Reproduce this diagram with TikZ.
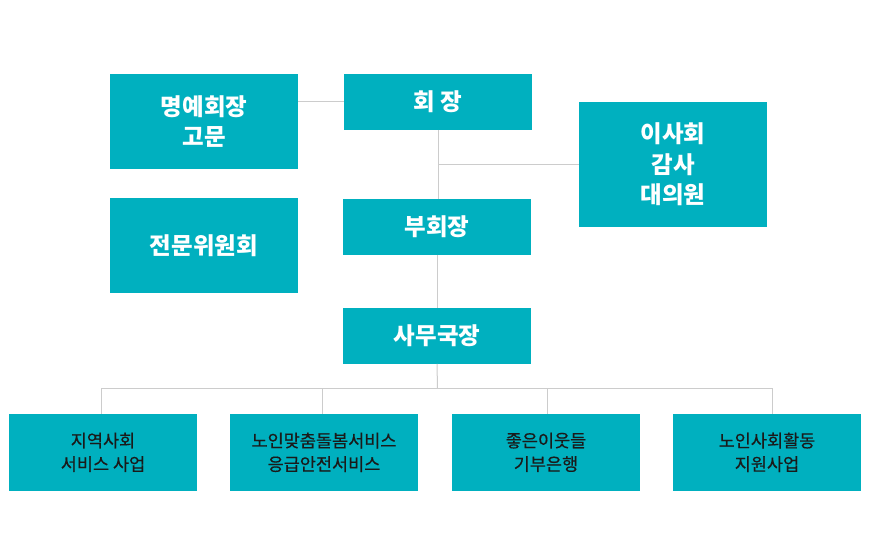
\documentclass[tikz,border=0pt]{standalone}
\usepackage{fontspec}
\setmainfont{Noto Sans CJK KR}
\newfontfamily\medfont[FakeBold=0.5]{Noto Sans CJK KR}
\definecolor{teal}{HTML}{00B0BF}
\definecolor{linegray}{HTML}{CCCCCC}
\definecolor{darktext}{HTML}{1A1A1A}
\begin{document}
\begin{tikzpicture}[x=1pt,y=-1pt,
  topbox/.style={fill=teal, draw=none, inner sep=0pt, minimum width=188pt, text=white, align=center,
    font=\fontsize{23.5}{30.5}\selectfont\bfseries},
  lowbox/.style={fill=teal, draw=none, inner sep=0pt, minimum width=188pt, minimum height=76.7pt, text=darktext, align=center,
    font=\medfont\fontsize{17.5}{23.5}\selectfont},
  conn/.style={draw=linegray, line width=1pt}]
\useasboundingbox[fill=white] (0,0) rectangle (870,558);
\node[topbox, minimum height=94.7pt] (myeong) at (204,121.3) {명예회장\\고문};
\node[topbox, minimum height=55.7pt] (hoe) at (438,101.8) {회 장};
\node[topbox, minimum height=124.7pt] (isa) at (673,164.3) {이사회\\감사\\대의원};
\node[topbox, minimum height=94.7pt] (jeon) at (204,245.3) {전문위원회};
\node[topbox, minimum height=55.7pt] (buhoe) at (437,226.8) {부회장};
\node[topbox, minimum height=55.7pt] (samu) at (437,335.8) {사무국장};
\node[lowbox] (b1) at (103,452.3) {지역사회\\서비스 사업};
\node[lowbox] (b2) at (324,452.3) {노인맞춤돌봄서비스\\응급안전서비스};
\node[lowbox] (b3) at (546,452.3) {좋은이웃들\\기부은행};
\node[lowbox] (b4) at (767,452.3) {노인사회활동\\지원사업};
\coordinate (bus) at (437.5,388.3);
\coordinate (d1) at (101.5,388.3);
\coordinate (d2) at (322.5,388.3);
\coordinate (d3) at (547.3,388.3);
\coordinate (d4) at (772.3,388.3);
\draw[conn] (hoe.west) -- (hoe.west -| myeong.east);
\draw[conn] (hoe.south) -- (hoe.south |- buhoe.north);
\draw[conn] (isa.west) -- (isa.west -| hoe.south);
\draw[conn] (buhoe.south) -- (buhoe.south |- samu.north);
\draw[conn] (samu.south) -- (bus);
\draw[conn] (d1) -- (d4);
\draw[conn] (d1) -- (d1 |- b1.north);
\draw[conn] (d2) -- (d2 |- b2.north);
\draw[conn] (d3) -- (d3 |- b3.north);
\draw[conn] (d4) -- (d4 |- b4.north);
\end{tikzpicture}
\end{document}
